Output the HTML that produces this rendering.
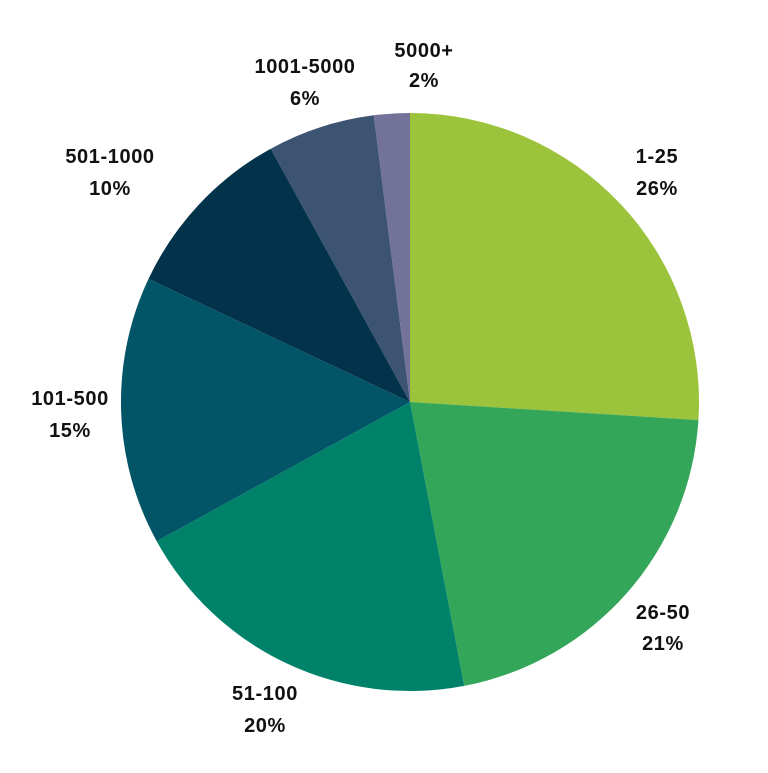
<!DOCTYPE html>
<html><head><style>body{margin:0;background:#fff}svg text{font-family:"Liberation Sans",sans-serif;font-weight:bold;font-size:20px;letter-spacing:0.6px;fill:#111;text-anchor:middle}</style></head>
<body>
<svg width="768" height="768" viewBox="0 0 768 768">
<g stroke="none">
<path d="M410,402 L410,113 A289,289 0 0,1 698.4,420.1 Z" fill="#9BC33B"/>
<path d="M410,402 L698.4,420.1 A289,289 0 0,1 464.2,685.9 Z" fill="#33A65A"/>
<path d="M410,402 L464.2,685.9 A289,289 0 0,1 156.7,541.2 Z" fill="#00826A"/>
<path d="M410,402 L156.7,541.2 A289,289 0 0,1 148.5,278.9 Z" fill="#015567"/>
<path d="M410,402 L148.5,278.9 A289,289 0 0,1 270.8,148.7 Z" fill="#02334A"/>
<path d="M410,402 L270.8,148.7 A289,289 0 0,1 373.8,115.3 Z" fill="#3C5372"/>
<path d="M410,402 L373.8,115.3 A289,289 0 0,1 410,113 Z" fill="#737399"/>
</g>
<text x="424" y="57">5000+</text><text x="424" y="87">2%</text>
<text x="305" y="73">1001-5000</text><text x="305" y="105">6%</text>
<text x="110" y="163">501-1000</text><text x="110" y="195">10%</text>
<text x="657" y="163">1-25</text><text x="657" y="195">26%</text>
<text x="70" y="405">101-500</text><text x="70" y="437">15%</text>
<text x="663" y="619">26-50</text><text x="663" y="650">21%</text>
<text x="265" y="700">51-100</text><text x="265" y="732">20%</text>
</svg>
</body></html>
